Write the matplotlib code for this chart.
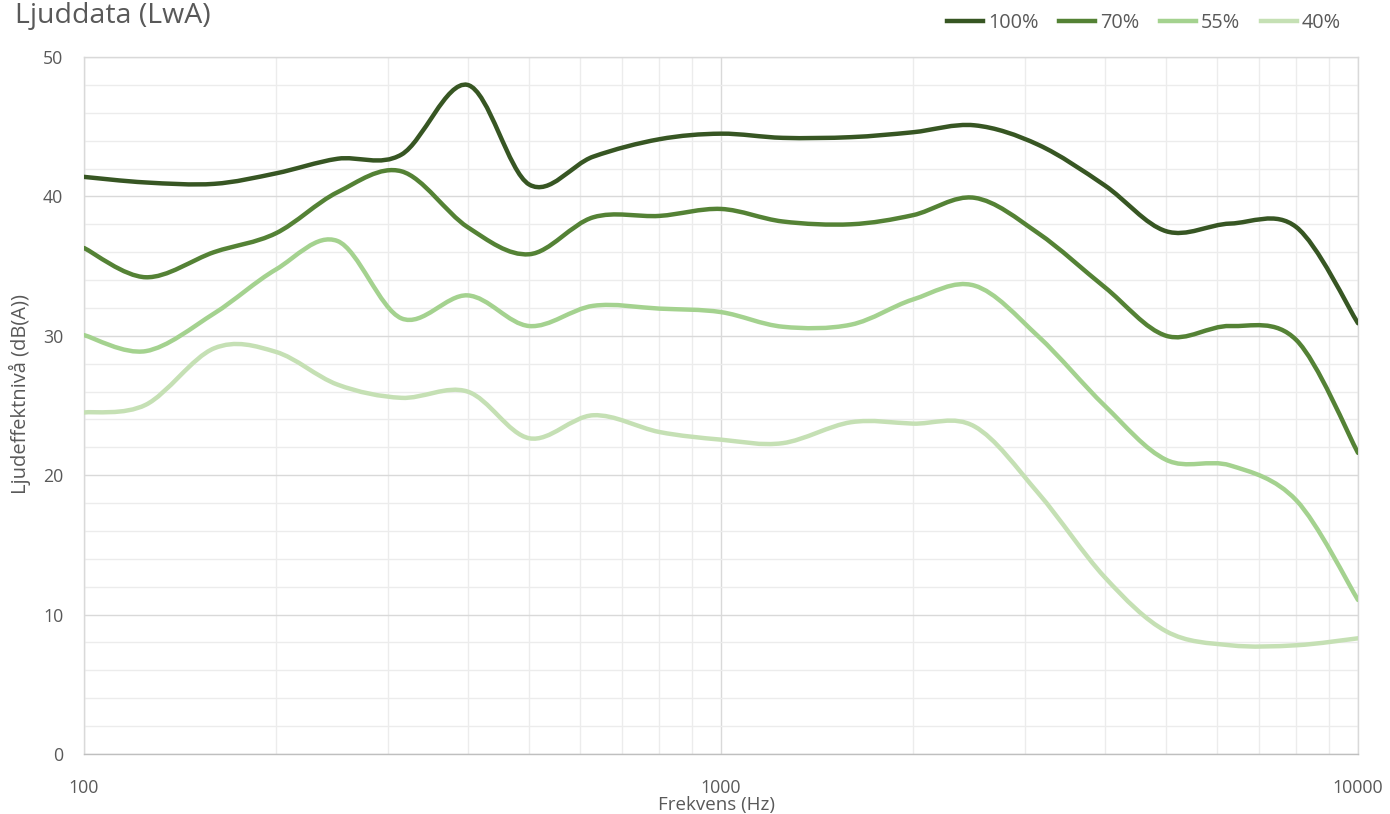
import numpy as np
import matplotlib
matplotlib.use("Agg")
import matplotlib.pyplot as plt
from matplotlib.path import Path
from matplotlib.patches import PathPatch
from matplotlib.lines import Line2D
from matplotlib.ticker import FixedLocator, NullFormatter

plt.rcParams['font.family'] = ['Open Sans', 'DejaVu Sans']

freqs = [100, 125, 160, 200, 250, 315, 400, 500, 630, 800, 1000, 1250,
         1600, 2000, 2500, 3150, 4000, 5000, 6300, 8000, 10000]
s100 = [41.4, 41.0, 40.9, 41.65, 42.7, 43.0, 48.0, 40.85, 42.85, 44.1, 44.5, 44.2,
        44.25, 44.6, 45.1, 43.7, 40.8, 37.5, 38.05, 37.8, 30.9]
s70 = [36.3, 34.2, 36.0, 37.35, 40.3, 41.8, 37.8, 35.85, 38.5, 38.6, 39.1, 38.2,
       38.0, 38.65, 39.9, 37.35, 33.5, 30.0, 30.7, 29.7, 21.6]
s55 = [30.05, 28.9, 31.6, 34.75, 36.8, 31.25, 32.9, 30.7, 32.15, 31.95, 31.7, 30.65,
       30.8, 32.6, 33.6, 29.95, 25.0, 21.1, 20.7, 18.2, 11.05]
s40 = [24.5, 25.05, 29.1, 28.85, 26.5, 25.55, 26.0, 22.65, 24.3, 23.1, 22.55, 22.3,
       23.8, 23.7, 23.5, 18.7, 12.7, 8.8, 7.8, 7.8, 8.3]
series_labels = ['100%', '70%', '55%', '40%']
series_colors = ['#375623', '#548235', '#a4d28f', '#c5e0b4']
series = [s100, s70, s55, s40]

x_ticks = [100, 1000, 10000]
x_tick_labels = ['100', '1000', '10000']
y_ticks = [0, 10, 20, 30, 40, 50]


def smooth_path(xs, ys):
    """Excel-like smoothed line: cubic Bezier segments (Catmull-Rom control points)
    built in log10(x) space, drawn by matplotlib's Path machinery."""
    u = np.log10(np.asarray(xs, float))
    v = np.asarray(ys, float)
    n = len(u)
    verts = [(10 ** u[0], v[0])]
    codes = [Path.MOVETO]
    for i in range(n - 1):
        i0 = max(i - 1, 0)
        i3 = min(i + 2, n - 1)
        c1u = u[i] + (u[i + 1] - u[i0]) / 6.0
        c1v = v[i] + (v[i + 1] - v[i0]) / 6.0
        c2u = u[i + 1] - (u[i3] - u[i]) / 6.0
        c2v = v[i + 1] - (v[i3] - v[i]) / 6.0
        verts += [(10 ** c1u, c1v), (10 ** c2u, c2v), (10 ** u[i + 1], v[i + 1])]
        codes += [Path.CURVE4] * 3
    return Path(verts, codes)


W, H = 1390, 814
fig = plt.figure(figsize=(W / 100, H / 100), dpi=100)
ax = fig.add_axes([84 / W, 60 / H, 1274 / W, 697 / H])
ax.set_xscale('log')
ax.set_xlim(100, 10000)
ax.set_ylim(0, 50)

# grid
ax.xaxis.set_major_locator(FixedLocator(x_ticks))
ax.xaxis.set_minor_locator(FixedLocator([k * 10 ** e for e in (2, 3) for k in range(2, 10)]))
ax.xaxis.set_minor_formatter(NullFormatter())
ax.set_xticklabels(x_tick_labels)
ax.yaxis.set_major_locator(FixedLocator(y_ticks))
ax.yaxis.set_minor_locator(FixedLocator([v for v in range(0, 51, 2) if v % 10]))
ax.grid(which='major', color='#d9d9d9', lw=1.0)
ax.grid(which='minor', color='#ececec', lw=1.0)
ax.set_axisbelow(True)
ax.tick_params(which='both', length=0)
ax.tick_params(axis='x', pad=18, labelsize=12.8, colors='#595959')
ax.tick_params(axis='y', pad=15, labelsize=12.8, colors='#595959')
for side in ['top', 'right', 'left']:
    ax.spines[side].set_color('#d9d9d9')
    ax.spines[side].set_linewidth(1.0)
ax.spines['bottom'].set_color('#bfbfbf')
ax.spines['bottom'].set_linewidth(1.0)

handles = []
for ys, lab, col in zip(series, series_labels, series_colors):
    patch = PathPatch(smooth_path(freqs, ys), fill=False, edgecolor=col, lw=3.2,
                      capstyle='round', joinstyle='round', zorder=3)
    ax.add_patch(patch)
    handles.append(Line2D([], [], color=col, lw=3.2, label=lab))

fig.text(717 / W, 1 - 805 / H, 'Frekvens (Hz)', fontsize=13.5, color='#595959',
         ha='center', va='center')
fig.text(20 / W, 1 - 394 / H, 'Ljudeffektnivå (dB(A))', fontsize=14.5, color='#595959',
         ha='center', va='center', rotation=90)

fig.text(15 / W, 1 - 16 / H, 'Ljuddata (LwA)', fontsize=20.5, color='#595959',
         ha='left', va='center')

fig.legend(handles=handles, loc='center', bbox_to_anchor=(1144 / W, 1 - 23 / H),
           ncol=4, frameon=False, fontsize=14.3, handlelength=1.8, handletextpad=0.25,
           columnspacing=1.05, labelcolor='#595959')

fig.savefig('out.png', dpi=100, facecolor='white')
